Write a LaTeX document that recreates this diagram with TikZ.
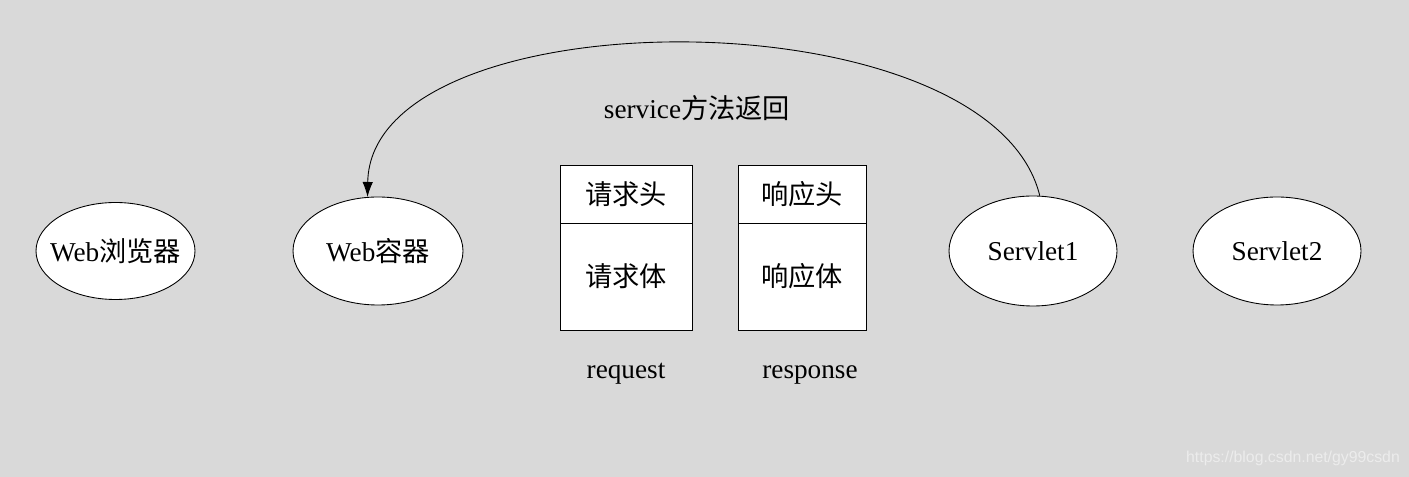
\documentclass[tikz,border=0pt]{standalone}
\usepackage{fontspec}
\setmainfont{Liberation Serif}
\newfontfamily\cjk{Noto Sans CJK SC}
\newfontfamily\wmfont{Liberation Sans}
\usepackage{tikz}
\usetikzlibrary{shapes,arrows.meta,positioning}
\definecolor{bg}{HTML}{D9D9D9}
\definecolor{mark}{HTML}{ECECEC}

\begin{document}
\begin{tikzpicture}[node distance=5cm, on grid,
    every node/.style={font=\fontsize{15.5}{18}\selectfont},
    elly/.style={ellipse, draw, fill=white, line width=0.5pt, inner xsep=-0.25cm, inner ysep=0pt},
    part/.style={rectangle, draw, fill=white, line width=0.5pt, inner sep=0pt, minimum width=2.64cm}]
  \fill[bg] (0,0) rectangle (28.18,-9.54);
  \useasboundingbox (0,0) rectangle (28.18,-9.54);

  \node[elly, minimum width=3.18cm, minimum height=1.94cm] (browser) at (2.31,-5.02) {Web{\cjk 浏览器}};
  \node[elly, minimum width=3.4cm, minimum height=2.16cm, right=5.25cm of browser] (container) {Web{\cjk 容器}};
  \node[elly, minimum width=3.36cm, minimum height=2.2cm, right=13.1cm of container] (servlet1) {Servlet1};
  \node[elly, minimum width=3.36cm, minimum height=2.16cm, right=4.88cm of servlet1] (servlet2) {Servlet2};

  % request / response objects
  \node[part, minimum height=1.16cm] (reqhead) at (12.52,-3.88) {\cjk 请求头};
  \node[part, minimum height=2.14cm, below=1.65cm of reqhead] (reqbody) {\cjk 请求体};
  \node[part, minimum width=2.56cm, minimum height=1.16cm, right=3.52cm of reqhead] (resphead) {\cjk 响应头};
  \node[part, minimum width=2.56cm, minimum height=2.14cm, below=1.65cm of resphead] (respbody) {\cjk 响应体};
  \node[below=1.95cm of reqbody] (reqname) {request};
  \node[below=1.97cm of respbody, xshift=0.16cm] (respname) {response};

  \node (back) at (13.94,-2.16) {service{\cjk 方法返回}};

  \draw[line width=0.5pt, -{Latex[length=3mm, width=2.1mm]}]
    (servlet1.83) .. controls +(-1,4.08) and +(0.06,4.06) .. (container.101);

  \node[text=mark, font=\wmfont\fontsize{9}{11}\selectfont] (url) at (25.86,-9.16) {https://blog.csdn.net/gy99csdn};
\end{tikzpicture}
\end{document}
